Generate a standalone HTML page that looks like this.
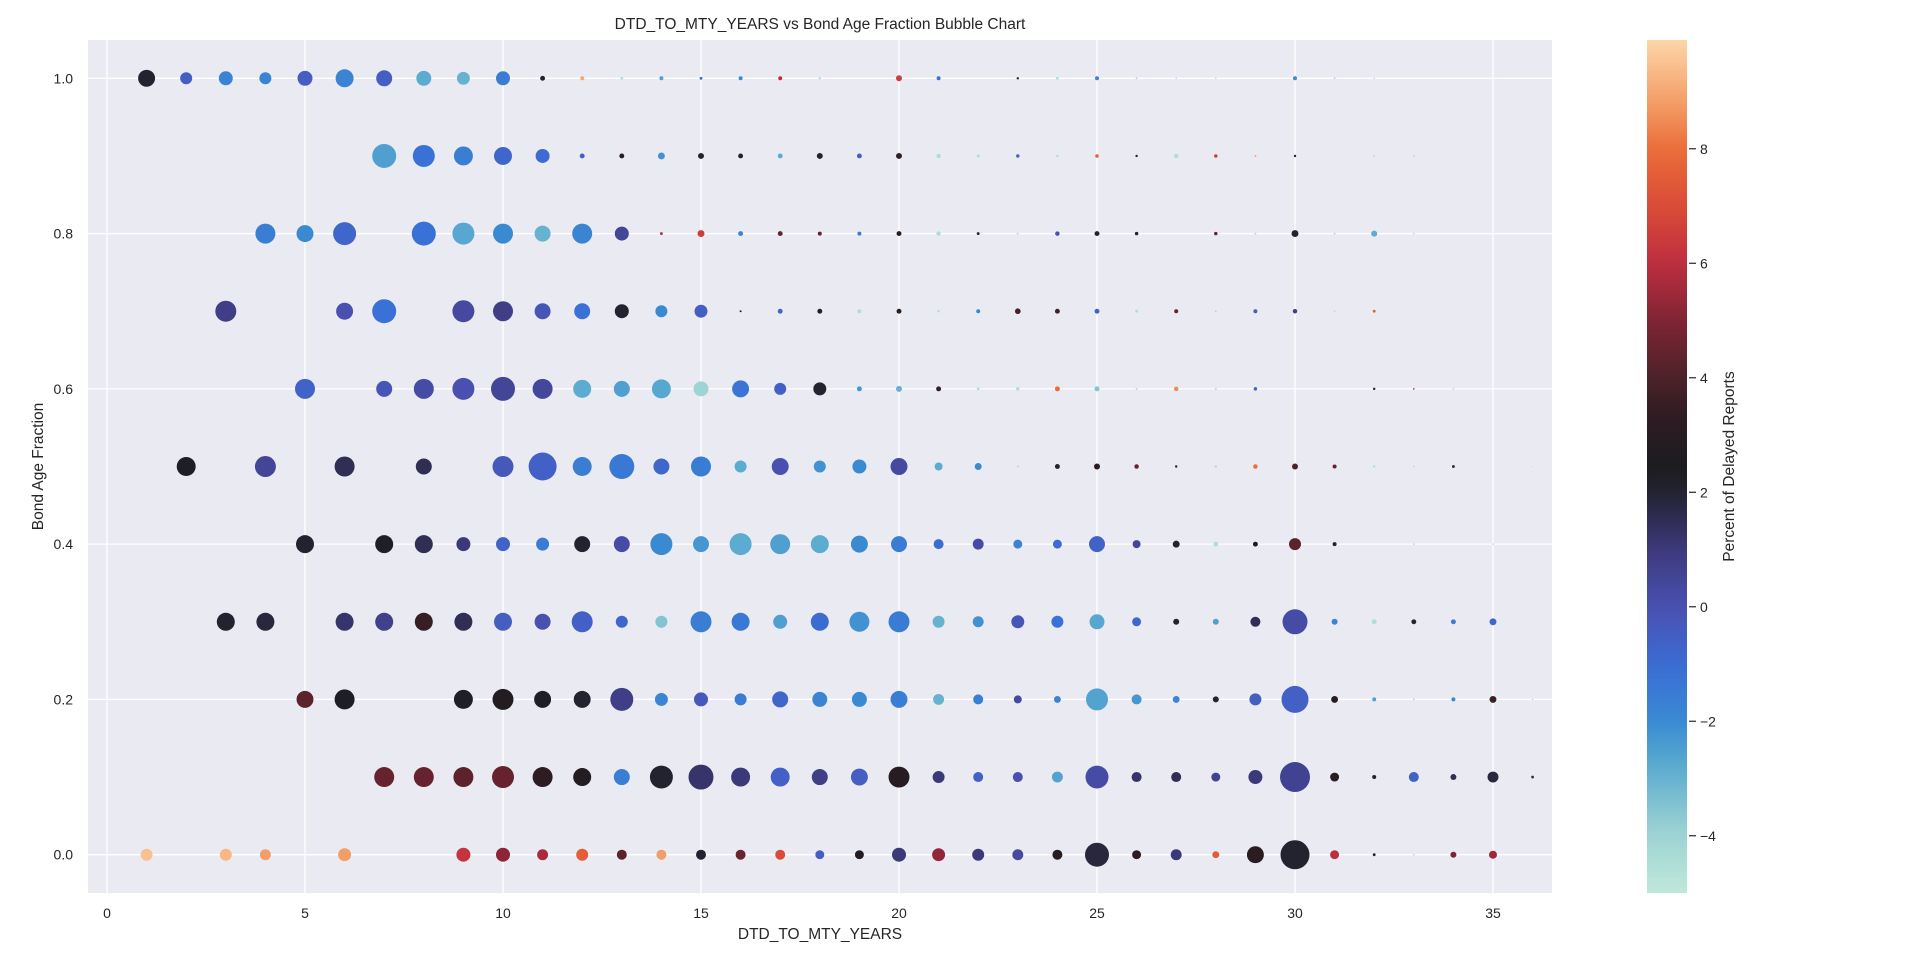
<!DOCTYPE html>
<html><head><meta charset="utf-8"><style>
html,body{margin:0;padding:0;background:#fff;}
svg{display:block;font-family:"Liberation Sans","DejaVu Sans",sans-serif;}
</style></head><body>
<svg id="chart" width="1920" height="975" viewBox="0 0 1920 975"></svg>
<script>
// ---- data ----
const rowY = [1.0, 0.9, 0.8, 0.7, 0.6, 0.5, 0.4, 0.3, 0.2, 0.1, 0.0];
const rowX = [
 [1,2,3,4,5,6,7,8,9,10,11,12,13,14,15,16,17,18,20,21,23,24,25,26,27,28,30,31,32],
 [7,8,9,10,11,12,13,14,15,16,17,18,19,20,21,22,23,24,25,26,27,28,29,30,32,33],
 [4,5,6,8,9,10,11,12,13,14,15,16,17,18,19,20,21,22,23,24,25,26,28,29,30,31,32,33],
 [3,6,7,9,10,11,12,13,14,15,16,17,18,19,20,21,22,23,24,25,26,27,28,29,30,31,32],
 [5,7,8,9,10,11,12,13,14,15,16,17,18,19,20,21,22,23,24,25,26,27,28,29,32,33,34],
 [2,4,6,8,10,11,12,13,14,15,16,17,18,19,20,21,22,23,24,25,26,27,28,29,30,31,32,33,34,36],
 [5,7,8,9,10,11,12,13,14,15,16,17,18,19,20,21,22,23,24,25,26,27,28,29,30,31,33,35],
 [3,4,6,7,8,9,10,11,12,13,14,15,16,17,18,19,20,21,22,23,24,25,26,27,28,29,30,31,32,33,34,35],
 [5,6,9,10,11,12,13,14,15,16,17,18,19,20,21,22,23,24,25,26,27,28,29,30,31,32,33,34,35,36],
 [7,8,9,10,11,12,13,14,15,16,17,18,19,20,21,22,23,24,25,26,27,28,29,30,31,32,33,34,35,36],
 [1,3,4,6,9,10,11,12,13,14,15,16,17,18,19,20,21,22,23,24,25,26,27,28,29,30,31,32,33,34,35]
];
// bubble counts (area-proportional)
const rowCount = [
 [72,36,49,36,56,81,64,56,42,49,6,4,2,4,2,4,4,1.5,9,4,1.5,2,4,1,0.7,0.7,4,1,0.7],
 [144,121,90,81,49,6,6,12,9,6,6,9,6,9,5,2,3,1.5,3,1.5,5,3,1,1.5,1,1],
 [100,72,132,144,121,100,64,100,49,2,12,6,6,4,4,6,5,2,1,5,6,3,3,1,12,1,9,0.7],
 [110,72,144,121,100,64,64,49,36,42,1,6,6,4,6,1.5,4,8,6,6,2,4,1,4,5,0.7,2],
 [100,64,100,121,144,100,81,64,90,56,72,36,42,6,9,6,2,3,6,6,1,5,1,3,1.5,0.7,0.7],
 [90,110,100,64,110,196,90,156,64,100,36,72,36,49,72,16,12,1,6,9,5,1.5,1.5,5,9,4,1.5,0.7,2,0.3],
 [81,81,81,49,49,42,64,64,121,64,121,100,81,72,64,25,30,20,20,64,16,12,6,6,36,4,0.7,0.7],
 [81,81,81,81,81,81,81,64,110,36,36,110,81,49,81,100,110,36,30,42,36,56,20,9,9,25,156,9,6,6,6,12],
 [72,100,90,110,72,72,132,42,49,36,64,56,56,72,30,25,16,12,121,25,12,9,36,182,12,4,1,4,12,0.7],
 [100,100,100,121,100,81,64,132,156,90,90,64,72,110,36,25,25,30,132,25,25,20,49,225,20,4,25,9,30,2],
 [36,36,30,42,49,49,30,36,25,25,25,25,25,20,20,49,42,36,30,25,144,20,30,12,72,210,20,2,0.7,9,16]
];
// percent of delayed reports (colour)
const rowValue = [
 [2,-0.5,-1.8,-1.8,-0.5,-1.8,-0.5,-2.8,-3,-1.5,2,9,-4.5,-2.5,-1,-2,6,-4.5,6.5,-1.2,2,-4.5,-1.8,-4.5,-4.5,-4.5,-2,-4.5,-4.5],
 [-2.5,-1.2,-1.6,-0.8,-1,-0.5,3,-2.2,2,2,-2.8,2,-0.5,3.5,-4.5,-4.5,-0.5,-4.5,7.5,2,-4.5,6.5,9,2,-4.5,-4.5],
 [-1.6,-2,-0.8,-1.2,-2.7,-2,-3,-1.8,0.5,6,6.5,-1.8,4.5,4.5,-1.5,3,-4.5,2,-4.5,0,2,2,4.5,-4.5,2,-4.5,-2.8,-4.5],
 [0.8,0,-1.2,0.3,0.8,-0.2,-1.2,2,-2,-0.5,2,-0.8,3,-4.5,3,-4.5,-2,3.8,3.8,-0.7,-4.5,4.5,-4.5,-0.5,0.8,-4.5,7.5],
 [-0.7,-0.2,0.2,0,0.5,0.4,-2.8,-2.5,-2.7,-4,-1.3,-0.6,2,-2.3,-3,3.5,-4.5,-4.5,8,-3.5,-4.5,8.5,-4.5,-0.5,2,6,-4.5],
 [2.3,0.5,1.5,1.5,-0.3,-0.6,-1.6,-1.4,-0.8,-1.5,-2.8,0,-2.2,-2,0.3,-2.8,-2,-4.5,2,3,4.5,2,-4.5,8,4,4.5,-4.5,-4.5,2,-4.5],
 [2,2.2,1.5,1,-0.7,-1.5,2,0.2,-2,-2.3,-2.8,-2.5,-2.8,-2,-1.5,-1,0.2,-1.8,-1,-0.7,0.5,2,-4.5,2.5,4.3,2,-4.5,-4.5],
 [2,1.8,1.2,0.7,3.5,1.5,-0.5,0,-0.6,-0.8,-3.5,-1.6,-1.4,-2.5,-1,-2.2,-1.5,-3,-2.2,-0.2,-1.2,-2.7,-0.8,2,-2.5,1.5,0.2,-1.8,-4.5,2,-1.5,-0.8],
 [4.3,2.3,2.2,2.8,2.2,2,0.8,-1.8,-0.3,-1.5,-0.8,-1.8,-2,-1.6,-3,-1.6,0.3,-1.8,-2.6,-2.3,-1.8,2,-0.5,-0.6,3,-2.6,-4.5,-2,3.5,-4.5],
 [4.5,4.5,4.3,4.5,3.3,2.8,-1.6,2,1.2,1,-0.6,0.8,-0.5,3,1,-0.6,0,-2.6,0.2,1.2,1.5,0.6,1,0.6,3.2,2,-0.7,1.5,1.8,1.5],
 [9.5,9.3,8.8,8.8,6.2,5.2,5.7,7.5,4.3,8.8,2,4.6,7,-0.5,2.8,1,5.3,1,0.3,3,1.8,3.3,1,7.5,3.2,2,6,2,-4.5,5,5.5]
];
const xTicks = [0,5,10,15,20,25,30,35];
const yTicks = [0.0,0.2,0.4,0.6,0.8,1.0];
const cbTicks = [-4,-2,0,2,4,6,8];
const cbMin = -5, cbMax = 9.9;

// ---- layout ----
const NS = "http://www.w3.org/2000/svg";
const svg = document.getElementById('chart');
const PL = 88, PR = 1552, PT = 40, PB = 893;
const X0 = 107, XU = 39.6;
const Y0 = 854.7, YU = 776.4;
const sx = v => X0 + v * XU;
const sy = v => Y0 - v * YU;
const CBL = 1647, CBR = 1687;
const cy = v => PB - (v - cbMin) / (cbMax - cbMin) * (PB - PT);

function mk(tag, attrs, parent) {
  const e = document.createElementNS(NS, tag);
  for (const k in attrs) e.setAttribute(k, attrs[k]);
  (parent || svg).appendChild(e);
  return e;
}

// icefire-like colormap
const stops = [
 [0,'#bfe8da'],[0.07,'#9dd3d3'],[0.15,'#5aaad0'],[0.2,'#3a8bd2'],[0.26,'#3a6fd6'],
 [0.33,'#4a52b4'],[0.4,'#3d3a7e'],[0.47,'#23222f'],[0.5,'#1c1c20'],[0.56,'#2e1c22'],
 [0.6,'#4a2228'],[0.67,'#7e2434'],[0.74,'#bf2e40'],[0.8,'#d84a38'],[0.87,'#ea6c38'],
 [0.93,'#f4a06a'],[1,'#fdd6a8']];
function hex(h){return [1,3,5].map(i=>parseInt(h.substr(i,2),16));}
function cmap(v){
  let t=(v-cbMin)/(cbMax-cbMin); t=Math.max(0,Math.min(1,t));
  for(let i=1;i<stops.length;i++){
    if(t<=stops[i][0]){
      const a=stops[i-1],b=stops[i],f=(t-a[0])/(b[0]-a[0]);
      const ca=hex(a[1]),cb=hex(b[1]);
      return 'rgb('+ca.map((c,j)=>Math.round(c+(cb[j]-c)*f)).join(',')+')';
    }
  }
  return stops[stops.length-1][1];
}

// plot background
const bg = mk('rect',{x:PL,y:PT,width:PR-PL,height:PB-PT,fill:'#eaeaf2'});



// grid + tick labels
xTicks.forEach(t=>{
  const l = mk('line',{x1:sx(t),x2:sx(t),y1:PT,y2:PB,stroke:'#fff','stroke-width':1.3});
  
  
  const tx = mk('text',{x:sx(t),y:918,'text-anchor':'middle','font-size':14,fill:'#262626'});
  tx.textContent = t;
  
  
});
yTicks.forEach(t=>{
  const l = mk('line',{x1:PL,x2:PR,y1:sy(t),y2:sy(t),stroke:'#fff','stroke-width':1.3});
  
  
  const tx = mk('text',{x:73,y:sy(t)+5,'text-anchor':'end','font-size':14,fill:'#262626'});
  tx.textContent = t.toFixed(1);
  
  
});

// bubbles
rowY.forEach((yv,ri)=>{
  rowX[ri].forEach((xv,i)=>{
    const c = mk('circle',{cx:sx(xv),cy:sy(yv),r:Math.sqrt(rowCount[ri][i]),fill:cmap(rowValue[ri][i])});
    
    
  });
});

// title & axis titles
const title = mk('text',{x:(PL+PR)/2,y:29,'text-anchor':'middle','font-size':15.5,fill:'#262626'});
title.textContent = 'DTD_TO_MTY_YEARS vs Bond Age Fraction Bubble Chart';


const xl = mk('text',{x:(PL+PR)/2,y:939,'text-anchor':'middle','font-size':15.5,fill:'#262626'});
xl.textContent = 'DTD_TO_MTY_YEARS';


const yl = mk('text',{x:0,y:0,'text-anchor':'middle','font-size':15.5,fill:'#262626',transform:'translate(43,'+((PT+PB)/2)+') rotate(-90)'});
yl.textContent = 'Bond Age Fraction';



// colorbar
const defs = mk('defs',{});
const grad = mk('linearGradient',{id:'cbg',x1:0,y1:1,x2:0,y2:0},defs);
for(let i=0;i<=40;i++){
  const t=i/40;
  mk('stop',{offset:t,'stop-color':cmap(cbMin+t*(cbMax-cbMin))},grad);
}
const cb = mk('rect',{x:CBL,y:PT,width:CBR-CBL,height:PB-PT,fill:'url(#cbg)'});


cbTicks.forEach(t=>{
  const l = mk('line',{x1:CBR+2,x2:CBR+9,y1:cy(t),y2:cy(t),stroke:'#262626','stroke-width':1.2});
  
  
  const tx = mk('text',{x:CBR+13,y:cy(t)+5,'font-size':14,fill:'#262626'});
  tx.textContent = t<0 ? '\u2212'+Math.abs(t) : t;
  
  
});
const cl = mk('text',{x:0,y:0,'text-anchor':'middle','font-size':15.5,fill:'#262626',transform:'translate(1734,'+((PT+PB)/2)+') rotate(-90)'});
cl.textContent = 'Percent of Delayed Reports';


</script>
</body></html>
